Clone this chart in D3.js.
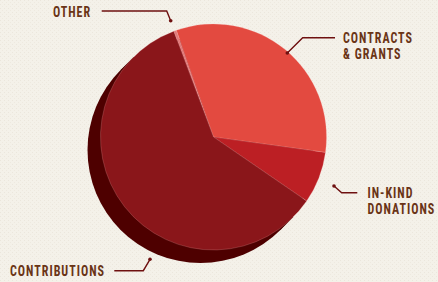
<!DOCTYPE html>
<html><head><meta charset="utf-8">
<script src="https://cdn.jsdelivr.net/npm/d3@7"></script>
<style>
html,body{margin:0;padding:0;background:#f4f1e9;}
svg{display:block;}
</style></head>
<body>
<svg id="c" width="438" height="282"></svg>
<script>
// ---- data ----
const categories = ["Other", "Contracts & Grants", "In-Kind Donations", "Contributions"];
const values = [0.4, 32.5, 7.4, 59.7];
const labelLines = [["OTHER"], ["CONTRACTS", "& GRANTS"], ["IN-KIND", "DONATIONS"], ["CONTRIBUTIONS"]];

// ---- styles / layout ----
const colors = ["#e27a7a", "#e34a40", "#bc1f24", "#8a161a"];
const W = 438, H = 282, cx = 213.5, cy = 137, R = 113, depth = 13;
const ink = "#6a3416", lineCol = "#6e1010";

const svg = d3.select("#c");
// background texture
const defs = svg.append("defs");
const pat = defs.append("pattern").attr("id","tex").attr("width",4).attr("height",4).attr("patternUnits","userSpaceOnUse");
pat.append("rect").attr("width",4).attr("height",4).attr("fill","#f4f1e9");
pat.append("rect").attr("x",0).attr("y",0).attr("width",1).attr("height",1).attr("fill","#ebe6dc");
pat.append("rect").attr("x",2).attr("y",2).attr("width",1).attr("height",1).attr("fill","#eee9df");
svg.append("rect").attr("width",W).attr("height",H).attr("fill","url(#tex)");

const data = categories.map((c,i)=>({cat:c, value:values[i], lines:labelLines[i], color:colors[i]}));
const a0 = -20.6*Math.PI/180;
const pie = d3.pie().sort(null).value(d=>d.value).startAngle(a0).endAngle(2*Math.PI + a0);
const arcs = pie(data);
const arc = d3.arc().innerRadius(0).outerRadius(R);

// shadow / extrusion (down-left)
const g0 = svg.append("g");
const nx = Math.SQRT1_2, ny = Math.SQRT1_2;
const c1x = cx - depth, c1y = cy + depth;
g0.append("circle").attr("cx", c1x).attr("cy", c1y).attr("r", R).attr("fill", "#4e0000");
g0.append("path").attr("fill","#4e0000").attr("d", d3.line()([
  [cx - R*nx, cy - R*ny], [cx + R*nx, cy + R*ny], [c1x + R*nx, c1y + R*ny], [c1x - R*nx, c1y - R*ny]
]));

const g = svg.append("g").attr("transform", `translate(${cx},${cy})`);
g.selectAll("path.slice").data(arcs).join("path")
  .attr("class","slice")
  .attr("d", arc)
  .attr("fill", d=>d.data.color)
  .attr("stroke", "rgba(255,190,190,0.35)")
  .attr("stroke-width", 0.6);

// ---- annotations ----
const ann = [
  {i:0, pts:[[101.7,11],[166.7,11],[170.7,20.7]], tx:53, ty:[17]},
  {i:1, pts:[[335,37.7],[302.7,37.7],[287.3,53]], tx:343, ty:[43,59]},
  {i:2, pts:[[357.3,192.7],[341.7,192.7],[334,186]], tx:367.5, ty:[197.5,213.5]},
  {i:3, pts:[[114.3,270.7],[143.3,270.7],[150,259.3]], tx:10, ty:[276]}
];
const ga = svg.append("g");
ann.forEach(a=>{
  ga.append("path").attr("d", d3.line()(a.pts)).attr("fill","none").attr("stroke",lineCol).attr("stroke-width",1.4);
  const end = a.pts[a.pts.length-1];
  ga.append("circle").attr("cx",end[0]).attr("cy",end[1]).attr("r",1.8).attr("fill",lineCol);
  data[a.i].lines.forEach((t,k)=>{
    const sx = 0.87;
    ga.append("text")
      .attr("transform", `translate(${a.tx},${a.ty[k]}) scale(${sx},1)`)
      .attr("font-family", "'Liberation Sans Narrow','Roboto Condensed','DejaVu Sans Condensed',sans-serif")
      .attr("font-weight", "bold")
      .attr("font-size", 13.8)
      .attr("letter-spacing", 1.15)
      .attr("fill", ink)
      .text(t);
  });
});
</script>
</body></html>
